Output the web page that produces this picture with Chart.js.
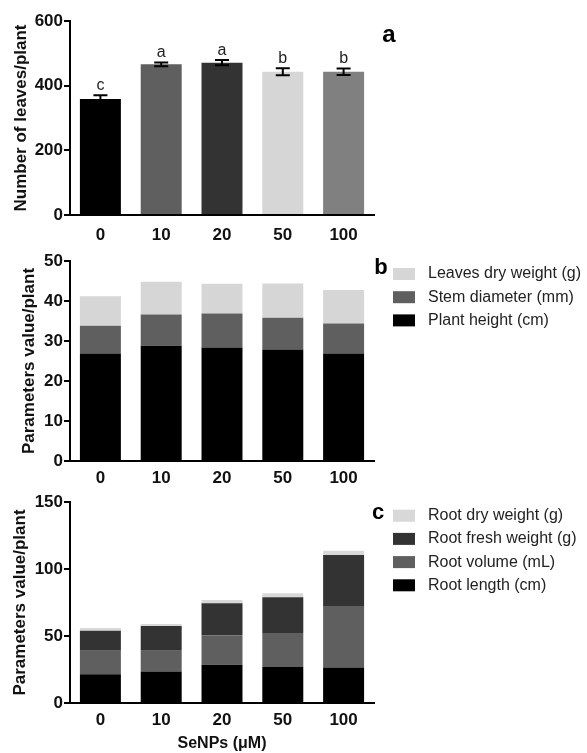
<!DOCTYPE html>
<html>
<head>
<meta charset="utf-8">
<script src="https://cdn.jsdelivr.net/npm/chart.js@4.4.0/dist/chart.umd.min.js"></script>
<style>
  body { margin: 0; background: #fff; }
  .panel { position: absolute; left: 0; }
</style>
</head>
<body>
<div class="panel" style="top:0"><canvas id="chartA" width="587" height="248"></canvas></div>
<div class="panel" style="top:248px"><canvas id="chartB" width="587" height="242"></canvas></div>
<div class="panel" style="top:490px"><canvas id="chartC" width="587" height="263"></canvas></div>
<script>
// doses
const doses = ['0', '10', '20', '50', '100'];

// panel a - number of leaves
const leaves = [359, 466, 471, 443, 443];
const leavesErr = [11, 6, 8, 11, 10];
const leavesLetters = ['c', 'a', 'a', 'b', 'b'];
const leavesColors = ['#000000', '#5f5f5f', '#333333', '#d6d6d6', '#808080'];

// panel b - shoot parameters
const plantHeight = [26.9, 28.8, 28.4, 27.9, 26.9];
const stemDiameter = [6.9, 7.8, 8.5, 7.9, 7.5];
const leavesDryWeight = [7.4, 8.2, 7.4, 8.6, 8.35];

// panel c - root parameters
const rootLength = [21.4, 23.6, 28.6, 26.9, 26.4];
const rootVolume = [17.6, 15.4, 21.9, 25.3, 46.0];
const rootFreshWeight = [15.0, 18.5, 23.9, 26.7, 38.0];
const rootDryWeight = [2.0, 1.5, 2.5, 3.0, 3.3];

const FONT = "'Liberation Sans', Arial, sans-serif";
const boldTick = { family: FONT, size: 17, weight: 'bold' };

function xAxis(pad, height, title) {
    return {
        stacked: true,
        afterFit: s => { s.height = height; },
        grid: { display: false, drawTicks: false },
        border: { color: '#000', width: 2 },
        ticks: { padding: pad, color: '#111', font: boldTick },
        title: title ? { display: true, text: title, color: '#111', padding: { top: 0, bottom: 0 },
                         font: { family: FONT, size: 16, weight: 'bold' } } : { display: false }
    };
}

function yAxis(max, step, title, titlePad) {
    return {
        stacked: true,
        min: 0,
        max: max,
        afterFit: s => { s.width = 70; },
        border: { color: '#000', width: 2 },
        grid: { drawOnChartArea: false, drawTicks: true, tickLength: 6, color: '#000', lineWidth: 2 },
        ticks: { stepSize: step, padding: 1, color: '#111', font: boldTick },
        title: { display: true, text: title, color: '#111', padding: { top: titlePad, bottom: 0 },
                 font: { family: FONT, size: 17, weight: 'bold' } }
    };
}

// panel letter (a, b, c)
const panelTag = {
    id: 'panelTag',
    afterDraw(chart, args, opts) {
        const ctx = chart.ctx;
        ctx.save();
        ctx.fillStyle = '#000';
        ctx.font = 'bold ' + opts.size + 'px ' + FONT;
        ctx.textAlign = 'center';
        ctx.textBaseline = 'middle';
        ctx.fillText(opts.text, opts.x, opts.y);
        ctx.restore();
    }
};

// legend at the right, top dataset first
const sideLegend = {
    id: 'sideLegend',
    afterDraw(chart, args, opts) {
        if (!opts.show) return;
        const ctx = chart.ctx;
        const sets = chart.data.datasets.slice().reverse();
        ctx.save();
        ctx.font = '16px ' + FONT;
        ctx.textBaseline = 'middle';
        ctx.textAlign = 'left';
        sets.forEach((ds, i) => {
            const cy = opts.y + i * 23.2;
            ctx.fillStyle = ds.backgroundColor;
            ctx.fillRect(393, cy - 6, 22, 12);
            ctx.fillStyle = '#222';
            ctx.fillText(ds.label, 428, cy);
        });
        ctx.restore();
    }
};

// error bars and letters for panel a
const errorBars = {
    id: 'errorBars',
    afterDatasetsDraw(chart, args, opts) {
        if (!opts.show) return;
        const ctx = chart.ctx, xs = chart.scales.x, ys = chart.scales.y;
        ctx.save();
        ctx.strokeStyle = '#000';
        ctx.lineWidth = 2;
        leaves.forEach((v, i) => {
            const cx = xs.getPixelForValue(i);
            const top = ys.getPixelForValue(v + leavesErr[i]);
            const bot = ys.getPixelForValue(v - leavesErr[i]);
            ctx.beginPath();
            ctx.moveTo(cx, top); ctx.lineTo(cx, bot);
            ctx.moveTo(cx - 7, top); ctx.lineTo(cx + 7, top);
            ctx.moveTo(cx - 7, bot); ctx.lineTo(cx + 7, bot);
            ctx.stroke();
            ctx.fillStyle = '#222';
            ctx.font = '16px ' + FONT;
            ctx.textAlign = 'center';
            ctx.textBaseline = 'bottom';
            ctx.fillText(leavesLetters[i], cx, top - 2);
        });
        ctx.restore();
    }
};

Chart.register(panelTag, sideLegend, errorBars);

const barStyle = { barPercentage: 0.674, categoryPercentage: 1, borderWidth: 0 };

// Panel a
new Chart(document.getElementById('chartA'), {
    type: 'bar',
    data: {
        labels: doses,
        datasets: [Object.assign({ label: 'Number of leaves', data: leaves, backgroundColor: leavesColors }, barStyle)]
    },
    options: {
        responsive: false,
        animation: false,
        devicePixelRatio: 1,
        layout: { padding: { left: 0, right: 213, top: 21, bottom: 0 } },
        scales: {
            x: xAxis(10, 33),
            y: Object.assign(yAxis(600, 200, 'Number of leaves/plant', 11), { stacked: false })
        },
        plugins: {
            legend: { display: false },
            tooltip: { enabled: false },
            panelTag: { text: 'a', x: 389, y: 35, size: 24 },
            errorBars: { show: true },
            sideLegend: { show: false }
        }
    }
});

// Panel b
new Chart(document.getElementById('chartB'), {
    type: 'bar',
    data: {
        labels: doses,
        datasets: [
            Object.assign({ label: 'Plant height (cm)', data: plantHeight, backgroundColor: '#000000' }, barStyle),
            Object.assign({ label: 'Stem diameter (mm)', data: stemDiameter, backgroundColor: '#5f5f5f' }, barStyle),
            Object.assign({ label: 'Leaves dry weight (g)', data: leavesDryWeight, backgroundColor: '#d6d6d6' }, barStyle)
        ]
    },
    options: {
        responsive: false,
        animation: false,
        devicePixelRatio: 1,
        layout: { padding: { left: 0, right: 213, top: 13, bottom: 0 } },
        scales: {
            x: xAxis(7, 29),
            y: yAxis(50, 10, 'Parameters value/plant', 19)
        },
        plugins: {
            legend: { display: false },
            tooltip: { enabled: false },
            panelTag: { text: 'b', x: 381, y: 20, size: 22 },
            errorBars: { show: false },
            sideLegend: { show: true, y: 26 }
        }
    }
});

// Panel c
new Chart(document.getElementById('chartC'), {
    type: 'bar',
    data: {
        labels: doses,
        datasets: [
            Object.assign({ label: 'Root length (cm)', data: rootLength, backgroundColor: '#000000' }, barStyle),
            Object.assign({ label: 'Root volume (mL)', data: rootVolume, backgroundColor: '#5f5f5f' }, barStyle),
            Object.assign({ label: 'Root fresh weight (g)', data: rootFreshWeight, backgroundColor: '#333333' }, barStyle),
            Object.assign({ label: 'Root dry weight (g)', data: rootDryWeight, backgroundColor: '#d8d8d8' }, barStyle)
        ]
    },
    options: {
        responsive: false,
        animation: false,
        devicePixelRatio: 1,
        layout: { padding: { left: 0, right: 213, top: 12, bottom: 0 } },
        scales: {
            x: xAxis(7, 50, 'SeNPs (\u03bcM)'),
            y: yAxis(150, 50, 'Parameters value/plant', 10)
        },
        plugins: {
            legend: { display: false },
            tooltip: { enabled: false },
            panelTag: { text: 'c', x: 378, y: 23, size: 22 },
            errorBars: { show: false },
            sideLegend: { show: true, y: 25.7 }
        }
    }
});
</script>
</body>
</html>
